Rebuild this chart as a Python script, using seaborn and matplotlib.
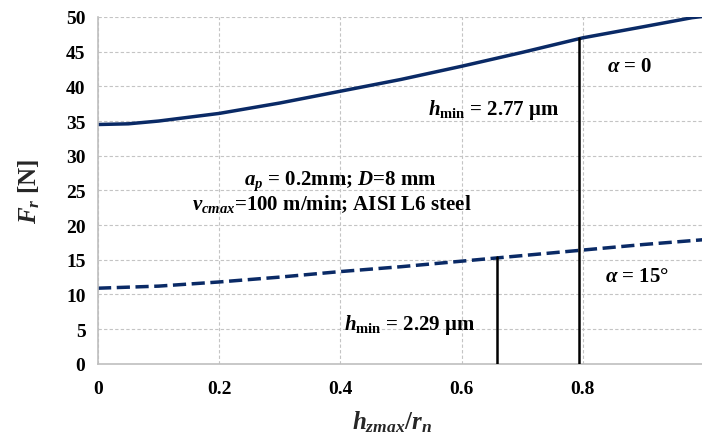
import matplotlib
matplotlib.use("Agg")
import matplotlib.pyplot as plt
import seaborn as sns
import pandas as pd

# data
x_vals = [0.0, 0.05, 0.1, 0.2, 0.3, 0.4, 0.5, 0.6, 0.7, 0.8, 0.9, 0.98, 1.0]
f_alpha0 = [34.5, 34.6, 35.0, 36.1, 37.6, 39.3, 41.0, 42.9, 44.9, 47.0, 48.6, 49.9, 50.1]
x_dash = [0.0, 0.1, 0.2, 0.3, 0.4, 0.5, 0.6, 0.7, 0.8, 0.9, 1.0]
f_alpha15 = [10.9, 11.2, 11.8, 12.5, 13.3, 14.0, 14.8, 15.6, 16.4, 17.2, 17.9]
vline_x = [0.794, 0.658]
vline_top = [47.0, 15.4]

sns.set_theme(style="white")
plt.rcParams['font.family'] = ['Liberation Serif', 'DejaVu Serif']
plt.rcParams['mathtext.fontset'] = 'custom'
plt.rcParams['mathtext.rm'] = 'Liberation Serif:bold'
plt.rcParams['mathtext.bf'] = 'Liberation Serif:bold'
plt.rcParams['mathtext.it'] = 'Liberation Serif:italic:bold'
plt.rcParams['text.color'] = 'black'

df1 = pd.DataFrame({"x": x_vals, "F": f_alpha0})
df2 = pd.DataFrame({"x": x_dash, "F": f_alpha15})

fig = plt.figure(figsize=(7.02, 4.39), dpi=100)
ax = fig.add_axes([0.1396, 0.169, 0.8634, 0.790])

navy = "#0a2a66"
sns.lineplot(data=df1, x="x", y="F", ax=ax, color=navy, lw=2.5)
sns.lineplot(data=df2, x="x", y="F", ax=ax, color=navy, lw=2.5)
ax.lines[1].set_dashes([3.8, 1.6])

for xv, top in zip(vline_x, vline_top):
    ax.plot([xv, xv], [0, top], color="black", lw=1.8, zorder=3)

ax.set_xlim(0, 1.0)
ax.set_ylim(0, 50)
ax.set_xticks([0, 0.2, 0.4, 0.6, 0.8])
ax.set_xticklabels(["0", "0.2", "0.4", "0.6", "0.8"])
ax.set_yticks(range(0, 51, 5))
ax.grid(True, color="#c4c4c4", ls=(0, (3, 2)), lw=0.8)
ax.set_axisbelow(True)
for s in ["top", "right"]:
    ax.spines[s].set_visible(False)
for s in ["left", "bottom"]:
    ax.spines[s].set_color("#bfbfbf")
    ax.spines[s].set_linewidth(1.2)
ax.tick_params(axis="both", labelsize=14, length=0, colors="black")
ax.tick_params(axis="y", pad=9)
ax.tick_params(axis="x", pad=12)
for lab in ax.get_xticklabels() + ax.get_yticklabels():
    lab.set_fontweight("bold")

ax.set_xlabel(r"$h_{zmax}/r_n$", fontsize=18, fontweight="bold")
ax.xaxis.set_label_coords(0.485, -0.13)
ax.set_ylabel(r"$F_r$ [N]", fontsize=18, labelpad=17, fontweight="bold")

tk = dict(fontsize=15, fontweight="bold", ha="center", va="center")
ax.text(0.40, 26.5, r"$a_p$ = 0.2mm; $D$=8 mm", **tk)
ax.text(0.385, 23.2, r"$v_{cmax}$=100 m/min; AISI L6 steel", **tk)
ax.text(0.652, 36.7, r"$h_{\mathrm{min}}$ = 2.77 μm", **tk)
ax.text(0.878, 43.0, r"$\alpha$ = 0", **tk)
ax.text(0.889, 12.6, r"$\alpha$ = 15°", **tk)
ax.text(0.515, 5.8, r"$h_{\mathrm{min}}$ = 2.29 μm", **tk)

fig.savefig("out.png", dpi=100)
